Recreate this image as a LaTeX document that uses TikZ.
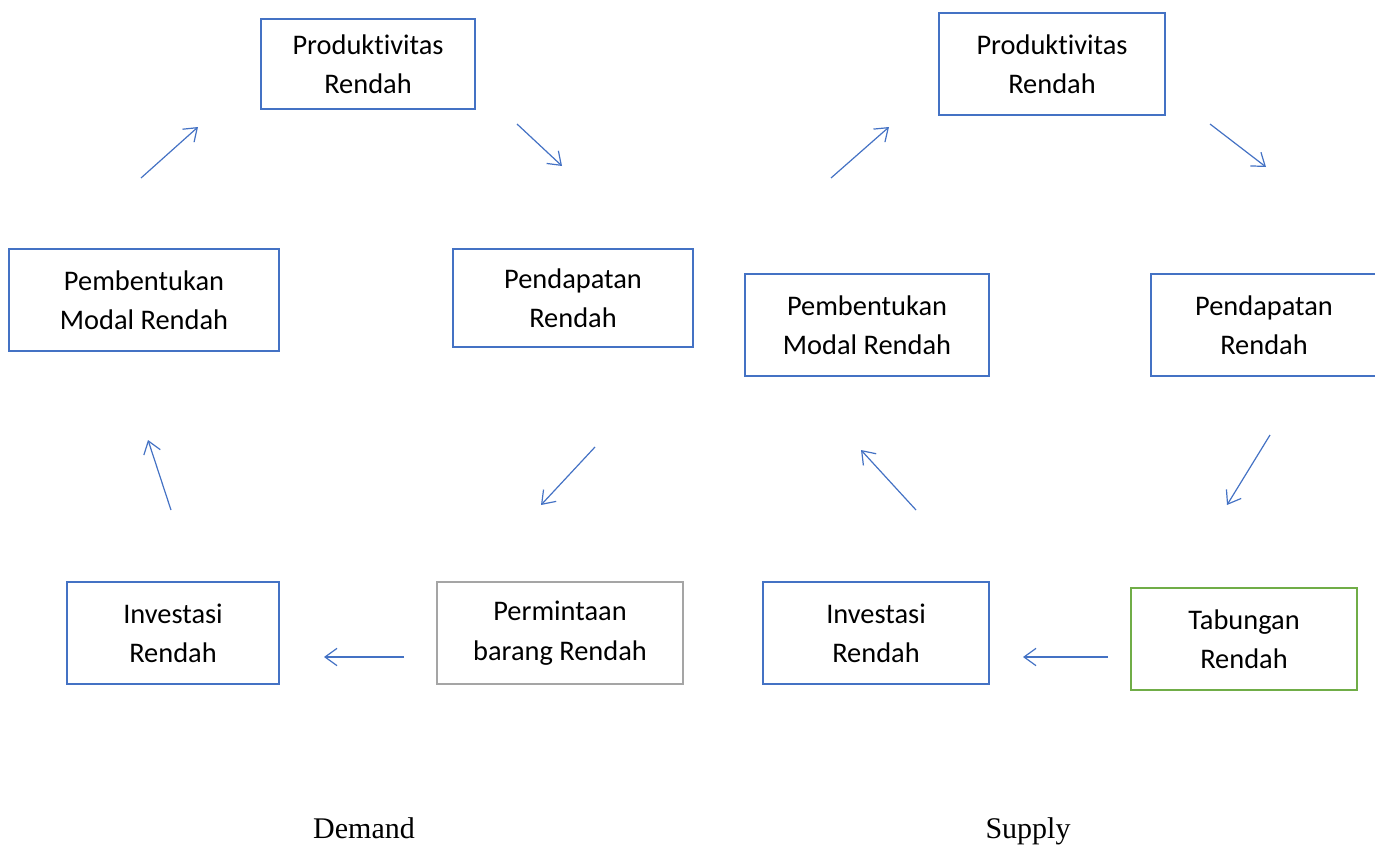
\documentclass[tikz,border=0pt]{standalone}
\usepackage{fontspec}
\setmainfont{Carlito}[Ligatures=NoCommon]
\newfontfamily\labelfont{Liberation Serif}
\usetikzlibrary{arrows.meta}
\definecolor{boxblue}{HTML}{4472C4}
\definecolor{boxgray}{HTML}{A5A5A5}
\definecolor{boxgreen}{HTML}{70AD47}
\begin{document}
\begin{tikzpicture}[x=0.75pt, y=-0.75pt,
    cyclebox/.style={draw=boxblue, line width=1.7pt, inner sep=0pt, align=center,
      font=\fontsize{21.3}{29.5}\selectfont},
    cyclearrow/.style={boxblue, line width=0.9pt, -{Straight Barb[length=9pt, width=13pt]}},
    sidelabel/.style={anchor=base, font=\labelfont\fontsize{22.5}{27}\selectfont}]
    \useasboundingbox (0,0) rectangle (1375,846);
    \clip (0,0) rectangle (1375,846);
    % Demand
    \node[cyclebox, minimum width=214*0.75pt, minimum height=90*0.75pt] (prodD) at (368,64) {Produktivitas\\Rendah};
    \node[cyclebox, minimum width=270*0.75pt, minimum height=102*0.75pt] (modalD) at (144,300) {Pembentukan\\Modal Rendah};
    \node[cyclebox, minimum width=240*0.75pt, minimum height=98*0.75pt] (pendD) at (573,298) {Pendapatan\\Rendah};
    \node[cyclebox, minimum width=212*0.75pt, minimum height=102*0.75pt] (invD) at (173,633) {Investasi\\Rendah};
    \node[cyclebox, draw=boxgray, minimum width=246*0.75pt, minimum height=102*0.75pt] (permD) at (560,633) {Permintaan\\barang Rendah};
    \coordinate (a1) at (141,178); \coordinate (b1) at (198,127);
    \coordinate (a2) at (517,124); \coordinate (b2) at (562,166);
    \coordinate (a3) at (595,447); \coordinate (b3) at (541,505);
    \coordinate (a4) at (404,657); \coordinate (b4) at (324,657);
    \coordinate (a5) at (171,510); \coordinate (b5) at (148,440);
    \foreach \i in {1,...,5} \draw[cyclearrow] (a\i) -- (b\i);
    \node[sidelabel] (demand) at (364,838) {Demand};
    % Supply
    \node[cyclebox, minimum width=226*0.75pt, minimum height=102*0.75pt] (prodS) at (1052,64) {Produktivitas\\Rendah};
    \node[cyclebox, minimum width=244*0.75pt, minimum height=102*0.75pt] (modalS) at (867,325) {Pembentukan\\Modal Rendah};
    \node[cyclebox, minimum width=226*0.75pt, minimum height=102*0.75pt] (pendS) at (1264,325) {Pendapatan\\Rendah};
    \node[cyclebox, minimum width=226*0.75pt, minimum height=102*0.75pt] (invS) at (876,633) {Investasi\\Rendah};
    \node[cyclebox, draw=boxgreen, minimum width=226*0.75pt, minimum height=102*0.75pt] (tabS) at (1244,639) {Tabungan\\Rendah};
    \coordinate (c1) at (831,178); \coordinate (d1) at (889,127);
    \coordinate (c2) at (1210,124); \coordinate (d2) at (1266,167);
    \coordinate (c3) at (1270,435); \coordinate (d3) at (1227,505);
    \coordinate (c4) at (1108,657); \coordinate (d4) at (1023,657);
    \coordinate (c5) at (916,510); \coordinate (d5) at (861,450);
    \foreach \i in {1,...,5} \draw[cyclearrow] (c\i) -- (d\i);
    \node[sidelabel] (supply) at (1028,838) {Supply};
\end{tikzpicture}
\end{document}
